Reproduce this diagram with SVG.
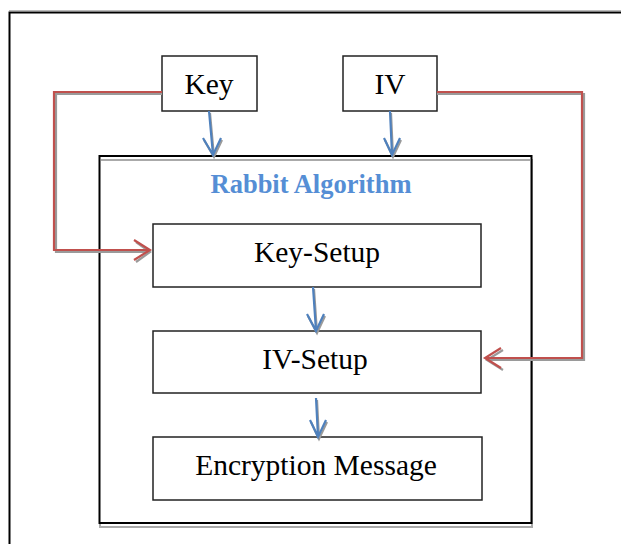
<svg xmlns="http://www.w3.org/2000/svg" width="621" height="544" viewBox="0 0 621 544">
<style>
.box{fill:#fff;stroke:#222;stroke-width:1.5}
.t{font-family:"Liberation Serif","Times New Roman",serif;font-size:29.5px;fill:#000;text-anchor:middle}
.title{font-family:"Liberation Serif","Times New Roman",serif;font-size:26.5px;font-weight:bold;fill:#558ED5;text-anchor:middle}
.blue{fill:none;stroke:#4F81BD;stroke-width:2.2}
.red{fill:none;stroke:#C0504D;stroke-width:2.2}
.sh{fill:none;stroke:#9a9a9a;stroke-width:2.2}
</style>
<rect x="0" y="0" width="621" height="544" fill="#fff"/>
<rect x="9.5" y="12.5" width="700" height="600" fill="none" stroke="#000" stroke-width="2"/>
<line x1="9" y1="10.5" x2="621" y2="10.5" stroke="#bbb" stroke-width="1"/>
<g id="rabbit">
<rect x="100" y="160" width="432" height="367" fill="none" stroke="#aaa" stroke-width="2"/>
<rect x="99.5" y="156" width="432" height="367" fill="#fff" stroke="#000" stroke-width="2"/>
<line x1="101" y1="160" x2="530" y2="160" stroke="#aaa" stroke-width="2"/>
<text class="title" x="311" y="193">Rabbit Algorithm</text>
</g>
<g id="key">
<rect class="box" x="162" y="56" width="95" height="55"/>
<text class="t" x="209" y="94">Key</text>
</g>
<g id="iv">
<rect class="box" x="343" y="56" width="94" height="55"/>
<text class="t" x="390" y="94">IV</text>
</g>
<g id="keysetup">
<rect class="box" x="153" y="224" width="328" height="63"/>
<text class="t" x="317" y="262">Key-Setup</text>
</g>
<g id="ivsetup">
<rect class="box" x="153" y="331" width="328" height="62"/>
<text class="t" x="315" y="369">IV-Setup</text>
</g>
<g id="encryption">
<rect class="box" x="153" y="437" width="329" height="63"/>
<text class="t" x="316" y="475">Encryption Message</text>
</g>
<g id="connectors">
<path class="sh" d="M162,94 H56 V252 H150 M136,242 L150,252 L136,262"/>
<path class="sh" d="M437,94 H584 V360 H487 M503,350 L487,360 L503,370"/>
<path class="red" d="M162,92 H54 V250 H150 M134,240 L150,250 L134,260"/>
<path class="red" d="M437,92 H582 V358 H485 M501,348 L485,358 L501,368"/>
<path class="sh" d="M210,113 L214,157 M204,140 L214,157 L222,140"/>
<path class="sh" d="M391,113 L393,157 M385,140 L393,157 L401,140"/>
<path class="sh" d="M314,289 L317,333 M308,316 L317,333 L325,316"/>
<path class="sh" d="M317,400 L319,439 M311,422 L319,439 L327,422"/>
<path class="blue" d="M209,111 L213,155 M203,138 L213,155 L221,138"/>
<path class="blue" d="M390,111 L392,155 M384,138 L392,155 L400,138"/>
<path class="blue" d="M313,287 L316,331 M307,314 L316,331 L324,314"/>
<path class="blue" d="M316,398 L318,437 M310,420 L318,437 L326,420"/>
</g>
</svg>
